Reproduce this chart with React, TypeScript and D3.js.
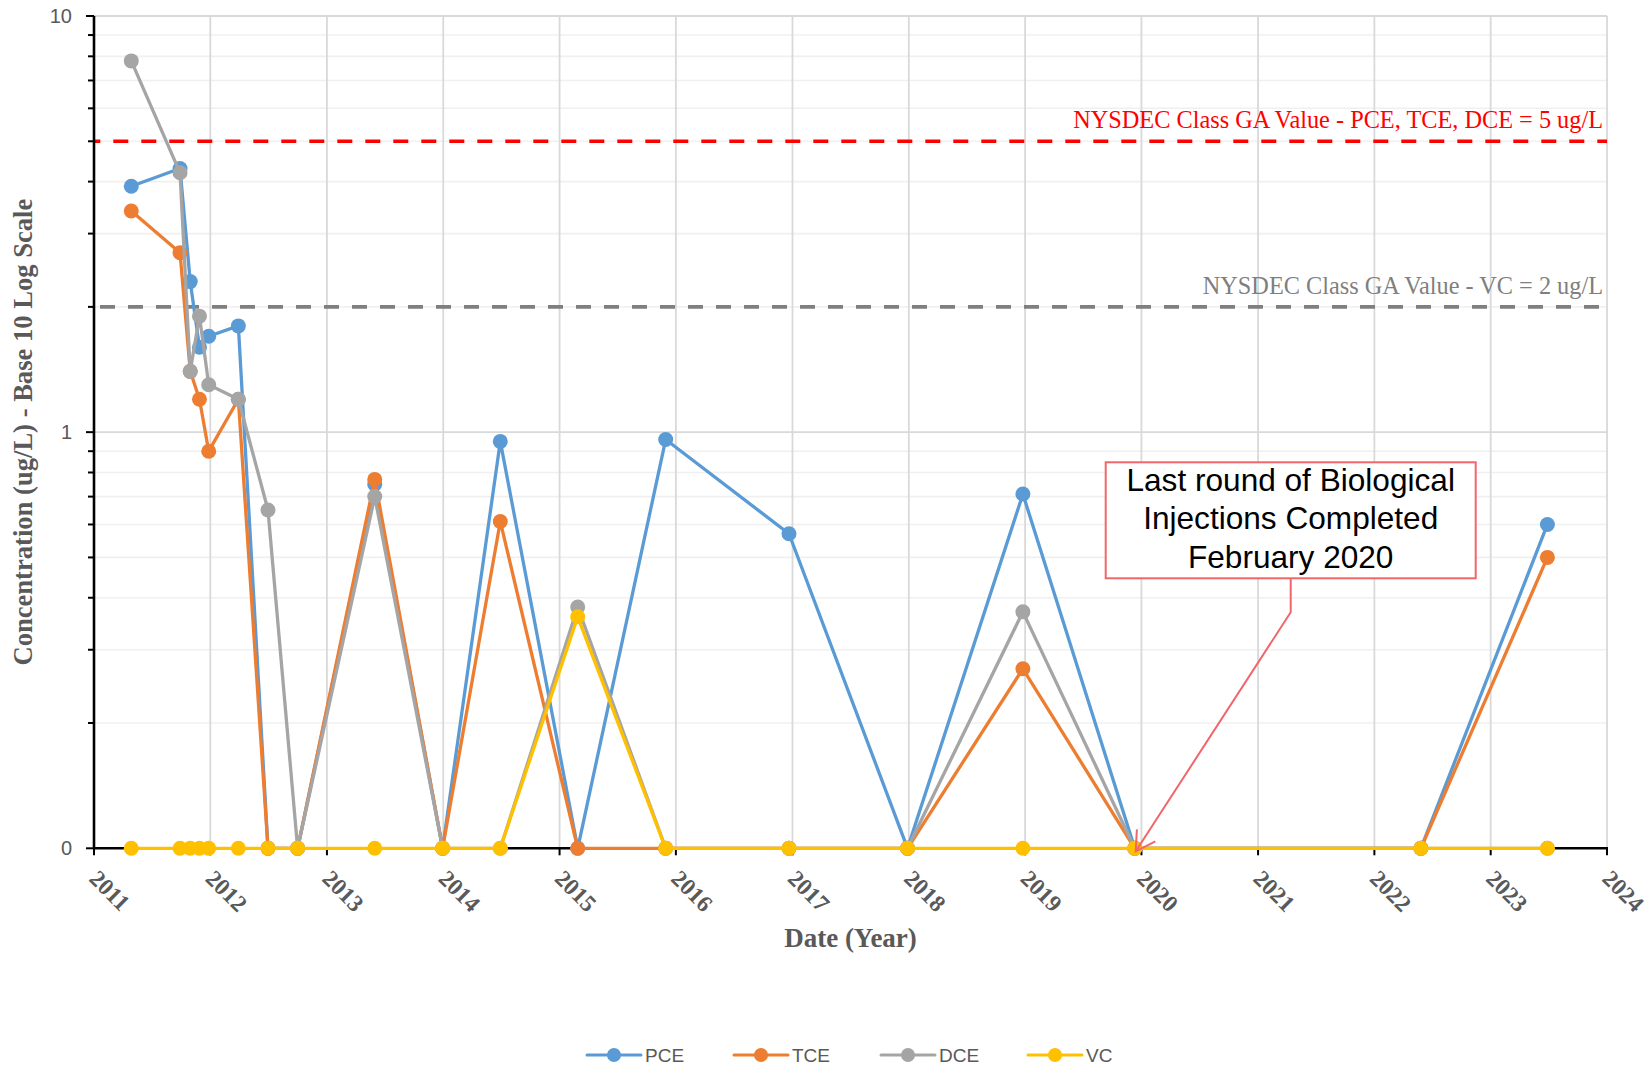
import React from "react";
import * as d3 from "d3";

// Sampling events (non-detects plotted at the 0.1 ug/L axis floor)
const sampleDates = [
  "2011-04-28", "2011-09-28", "2011-10-30", "2011-11-28", "2011-12-27",
  "2012-03-29", "2012-06-30", "2012-10-01", "2013-05-31", "2013-12-30",
  "2014-06-29", "2015-02-27", "2015-11-30", "2016-12-21", "2017-12-28",
  "2018-12-25", "2019-12-11", "2022-05-27", "2023-06-28",
];
const pceValues = [3.9, 4.3, 2.3, 1.6, 1.7, 1.8, 0.1, 0.1, 0.75, 0.1, 0.95, 0.1, 0.96, 0.57, 0.1, 0.71, 0.1, 0.1, 0.6];
const tceValues = [3.4, 2.7, 1.4, 1.2, 0.9, 1.2, 0.1, 0.1, 0.77, 0.1, 0.61, 0.1, 0.1, 0.1, 0.1, 0.27, 0.1, 0.1, 0.5];
const dceValues = [7.8, 4.2, 1.4, 1.9, 1.3, 1.2, 0.65, 0.1, 0.7, 0.1, 0.1, 0.38, 0.1, 0.1, 0.1, 0.37, 0.1, 0.1, 0.1];
const vcValues = [0.1, 0.1, 0.1, 0.1, 0.1, 0.1, 0.1, 0.1, 0.1, 0.1, 0.1, 0.36, 0.1, 0.1, 0.1, 0.1, 0.1, 0.1, 0.1];

const seriesNames = ["PCE", "TCE", "DCE", "VC"];
const seriesColors = ["#5B9BD5", "#ED7D31", "#A5A5A5", "#FFC000"];
const seriesValues = [pceValues, tceValues, dceValues, vcValues];

const yearTicks = [2011, 2012, 2013, 2014, 2015, 2016, 2017, 2018, 2019, 2020, 2021, 2022, 2023, 2024];
const yTickValues = [0.1, 1, 10];
const yTickLabels = ["0", "1", "10"];
const yMinorValues = [0.2, 0.3, 0.4, 0.5, 0.6, 0.7, 0.8, 0.9, 2, 3, 4, 5, 6, 7, 8, 9];

const standardValues = [5, 2];
const standardLabels = [
  "NYSDEC Class GA Value - PCE, TCE, DCE = 5 ug/L",
  "NYSDEC Class GA Value - VC = 2 ug/L",
];
const standardColors = ["#FF0000", "#7F7F7F"];

const annotationLines = ["Last round of Biological", "Injections Completed", "February 2020"];
const annotationIndex = 16;

const W = 1648;
const H = 1073;
const left = 94;
const right = 1607;
const top = 16;
const bottom = 848.3;

const axisText = "#595959";
const serif = "'Liberation Serif', 'Times New Roman', serif";
const sans = "'Liberation Sans', Arial, sans-serif";

export default function App() {
  const parse = d3.timeParse("%Y-%m-%d");
  const dates = sampleDates.map((d) => parse(d) as Date);

  const x = d3
    .scaleTime()
    .domain([new Date(2011, 0, 1), new Date(2024, 0, 1)])
    .range([left, right]);
  const y = d3.scaleLog().domain([0.1, 10]).range([bottom, top]);

  const line = d3
    .line<number>()
    .x((_, i) => x(dates[i]))
    .y((v) => y(v));

  // annotation callout geometry
  const boxX = 1105.7;
  const boxY = 462.3;
  const boxW = 370;
  const boxH = 116;
  const boxCx = boxX + boxW / 2;
  const elbowY = boxY + boxH + 34;
  const tipX = x(dates[annotationIndex]) + 1;
  const tipY = y(0.1) + 3;
  const dx = boxCx - tipX;
  const dy = elbowY - tipY;
  const len = Math.hypot(dx, dy);
  const ux = dx / len;
  const uy = dy / len;
  const armLen = 22;
  const ang = (30 * Math.PI) / 180;
  const rot = (a: number) => [
    ux * Math.cos(a) - uy * Math.sin(a),
    ux * Math.sin(a) + uy * Math.cos(a),
  ];
  const [a1x, a1y] = rot(ang);
  const [a2x, a2y] = rot(-ang);
  const calloutColor = "#F0666B";

  const legendY = 1055;
  const legendStart = 587;
  const legendStep = 147;

  return (
    <svg
      width={W}
      height={H}
      style={{ position: "absolute", left: 0, top: 0, background: "#fff" }}
    >
      {/* minor horizontal gridlines */}
      {yMinorValues.map((v) => (
        <line key={"mg" + v} x1={left} x2={right} y1={y(v)} y2={y(v)} stroke="#F0F0F0" strokeWidth={1.6} />
      ))}
      {/* major horizontal gridlines */}
      {yTickValues.slice(1).map((v) => (
        <line key={"Mg" + v} x1={left} x2={right} y1={y(v)} y2={y(v)} stroke="#D9D9D9" strokeWidth={1.8} />
      ))}
      {/* vertical gridlines */}
      {yearTicks.slice(1).map((yr) => (
        <line
          key={"vg" + yr}
          x1={x(new Date(yr, 0, 1))}
          x2={x(new Date(yr, 0, 1))}
          y1={top}
          y2={bottom}
          stroke="#D9D9D9"
          strokeWidth={1.8}
        />
      ))}

      {/* regulatory standards */}
      {standardValues.map((v, i) => (
        <g key={"std" + i}>
          <line
            x1={left}
            x2={right}
            y1={y(v)}
            y2={y(v)}
            stroke={standardColors[i]}
            strokeWidth={3.6}
            strokeDasharray="15 13"
            strokeDashoffset={i === 0 ? 8.7 : 22}
          />
          <text
            x={1603}
            y={y(v) - 13}
            textAnchor="end"
            fontFamily={serif}
            fontSize={24.3}
            fill={standardColors[i]}
          >
            {standardLabels[i]}
          </text>
        </g>
      ))}

      {/* axes */}
      <line x1={left} x2={left} y1={top} y2={bottom + 1} stroke="#000" strokeWidth={2.6} />
      <line x1={left - 1} x2={right + 1} y1={bottom} y2={bottom} stroke="#000" strokeWidth={2.6} />
      {yTickValues.map((v) => (
        <line key={"yt" + v} x1={left - 8} x2={left} y1={y(v)} y2={y(v)} stroke="#000" strokeWidth={2} />
      ))}
      {yMinorValues.map((v) => (
        <line key={"ymt" + v} x1={left - 6} x2={left} y1={y(v)} y2={y(v)} stroke="#000" strokeWidth={2} />
      ))}
      {yearTicks.map((yr) => (
        <line
          key={"xt" + yr}
          x1={x(new Date(yr, 0, 1))}
          x2={x(new Date(yr, 0, 1))}
          y1={bottom}
          y2={bottom + 7}
          stroke="#000"
          strokeWidth={2}
        />
      ))}
      {yTickValues.map((v, i) => (
        <text
          key={"yl" + v}
          x={72}
          y={y(v)}
          dy="0.35em"
          textAnchor="end"
          fontFamily={sans}
          fontSize={20}
          fill={axisText}
        >
          {yTickLabels[i]}
        </text>
      ))}
      {yearTicks.map((yr) => {
        const tx = x(new Date(yr, 0, 1)) - 6;
        const ty = 880;
        return (
          <text
            key={"xl" + yr}
            x={tx}
            y={ty}
            transform={`rotate(45 ${tx} ${ty})`}
            fontFamily={serif}
            fontWeight="bold"
            fontSize={23.5}
            fill={axisText}
          >
            {yr}
          </text>
        );
      })}

      {/* axis titles */}
      <text
        x={(left + right) / 2}
        y={947}
        textAnchor="middle"
        fontFamily={serif}
        fontWeight="bold"
        fontSize={27}
        fill={axisText}
      >
        Date (Year)
      </text>
      <text
        transform={`translate(32 ${(top + bottom) / 2}) rotate(-90)`}
        textAnchor="middle"
        fontFamily={serif}
        fontWeight="bold"
        fontSize={26.6}
        fill={axisText}
      >
        Concentration (ug/L) - Base 10 Log Scale
      </text>

      {/* series */}
      {seriesValues.map((vals, s) => (
        <g key={"s" + s}>
          <path
            d={line(vals) || ""}
            fill="none"
            stroke={seriesColors[s]}
            strokeWidth={3.3}
            strokeLinejoin="round"
            strokeLinecap="round"
          />
          {vals.map((v, i) => (
            <circle key={i} cx={x(dates[i])} cy={y(v)} r={7.5} fill={seriesColors[s]} />
          ))}
        </g>
      ))}

      {/* callout */}
      <rect x={boxX} y={boxY} width={boxW} height={boxH} fill="#fff" stroke={calloutColor} strokeWidth={2} />
      {annotationLines.map((t, i) => (
        <text
          key={"an" + i}
          x={boxCx}
          y={boxY + 28.6 + i * 38.5}
          textAnchor="middle"
          fontFamily={sans}
          fontSize={31.6}
          fill="#000"
        >
          {t}
        </text>
      ))}
      <path
        d={`M${boxCx},${boxY + boxH} L${boxCx},${elbowY} L${tipX},${tipY}`}
        fill="none"
        stroke={calloutColor}
        strokeWidth={2}
      />
      <path
        d={`M${tipX + a1x * armLen},${tipY + a1y * armLen} L${tipX},${tipY} L${tipX + a2x * armLen},${tipY + a2y * armLen}`}
        fill="none"
        stroke={calloutColor}
        strokeWidth={2}
      />

      {/* legend */}
      {seriesNames.map((name, i) => {
        const lx = legendStart + i * legendStep;
        return (
          <g key={"lg" + name}>
            <line x1={lx} x2={lx + 54} y1={legendY} y2={legendY} stroke={seriesColors[i]} strokeWidth={3} strokeLinecap="round" />
            <circle cx={lx + 27} cy={legendY} r={7} fill={seriesColors[i]} />
            <text x={lx + 58} y={legendY + 7} fontFamily={sans} fontSize={19} fill={axisText}>
              {name}
            </text>
          </g>
        );
      })}
    </svg>
  );
}
